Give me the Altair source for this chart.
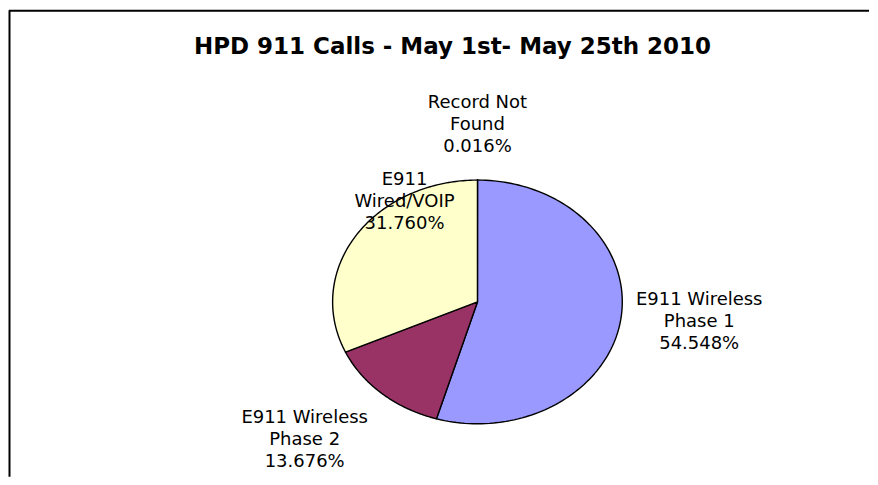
import altair as alt
import pandas as pd

# ---- data ----
categories = ["Record Not Found", "E911 Wireless Phase 1", "E911 Wireless Phase 2", "E911 Wired/VOIP"]
percent = [0.016, 54.548, 13.676, 31.760]
label_names = ["Record Not\nFound", "E911 Wireless\nPhase 1", "E911 Wireless\nPhase 2", "E911\nWired/VOIP"]
colors = ["#CCFFFF", "#9999FF", "#993366", "#FFFFCC"]
title_text = "HPD 911 Calls - May 1st- May 25th 2010"

# ---- layout (plot-area pixels) ----
W, H = 862, 469
CX, CY, RX, RY = 470, 294, 145, 122
label_x = [470, 692, 297, 397]
label_y = [95, 292, 410, 172]
SEG = 120

x_dom = [-CX / RX, (W - CX) / RX]
y_dom = [-(H - CY) / RY, CY / RY]

pie_df = pd.DataFrame({"category": categories, "pct": percent, "idx": list(range(len(categories)))})

pie = (
    alt.Chart(pie_df)
    .transform_joinaggregate(total="sum(pct)")
    .transform_window(cum="sum(pct)", sort=[alt.SortField("idx")], frame=[None, 0])
    .transform_calculate(start="(datum.cum - datum.pct) / datum.total",
                         frac="datum.pct / datum.total",
                         k=f"sequence(-1, {SEG + 1})")
    .transform_flatten(["k"])
    .transform_calculate(theta=f"2 * PI * (datum.start + datum.frac * datum.k / {SEG})")
    .transform_calculate(px="datum.k < 0 ? 0 : sin(datum.theta)",
                         py="datum.k < 0 ? 0 : cos(datum.theta)")
    .mark_line(interpolate="linear-closed", stroke="black", strokeWidth=1.4, strokeJoin="round")
    .encode(
        x=alt.X("px:Q", scale=alt.Scale(domain=x_dom, nice=False, zero=False), axis=None),
        y=alt.Y("py:Q", scale=alt.Scale(domain=y_dom, nice=False, zero=False), axis=None),
        order=alt.Order("k:Q"),
        detail="category:N",
        fill=alt.Fill("category:N", scale=alt.Scale(domain=categories, range=colors), legend=None),
    )
)

lab_df = pd.DataFrame({
    "label": [f"{n}\n{p:.3f}%" for n, p in zip(label_names, percent)],
    "lx": label_x,
    "ly": label_y,
})

labels = alt.Chart(lab_df).mark_text(
    font="DejaVu Sans", fontSize=18, align="center", baseline="middle",
    lineBreak="\n", lineHeight=22, color="black"
).encode(
    x=alt.X("lx:Q", scale=None),
    y=alt.Y("ly:Q", scale=None),
    text="label:N",
)

title = alt.Chart(pd.DataFrame({"t": [title_text]})).mark_text(
    font="DejaVu Sans", fontSize=23, fontWeight="bold", align="center", baseline="middle", color="black"
).encode(x=alt.value(445), y=alt.value(39), text="t:N")

frame_top = alt.Chart(pd.DataFrame({"a": [0]})).mark_rule(color="black", strokeWidth=2).encode(
    x=alt.value(1), x2=alt.value(W), y=alt.value(2.5))
frame_left = alt.Chart(pd.DataFrame({"a": [0]})).mark_rule(color="black", strokeWidth=2).encode(
    x=alt.value(1.5), y=alt.value(2), y2=alt.value(H))

chart = alt.layer(pie, labels, title, frame_top, frame_left).properties(
    width=W, height=H, padding=0, background="white"
).configure_view(stroke=None)

chart.save("out.html", embed_options={"renderer": "svg", "actions": False})
